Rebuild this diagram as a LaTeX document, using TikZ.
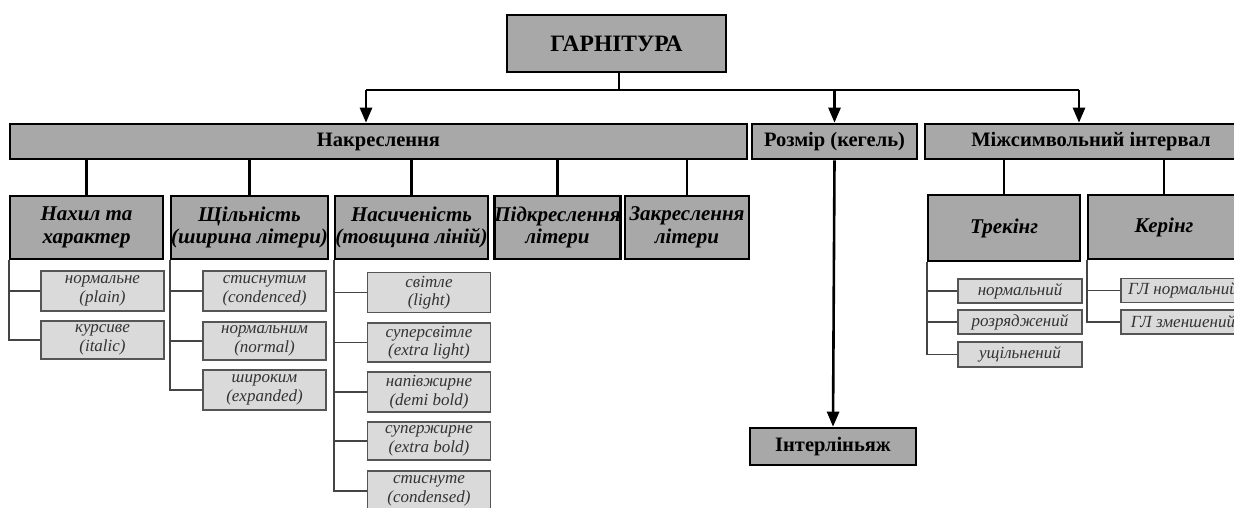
\documentclass[tikz,border=0pt]{standalone}
\usepackage{fontspec}
\setmainfont{Liberation Serif}
\usetikzlibrary{arrows.meta}
\definecolor{boxgray}{HTML}{A8A8A8}
\definecolor{leafgray}{HTML}{DADADA}
\definecolor{leafline}{HTML}{555555}
\definecolor{leaftext}{HTML}{333333}
\definecolor{treeline}{HTML}{444444}
\tikzset{
  mainbox/.style={draw=black, line width=2.6pt, fill=boxgray, inner sep=0pt, align=center,
    font=\bfseries\fontsize{20.5}{22}\selectfont},
  topbox/.style={mainbox, font=\bfseries\fontsize{23.5}{25}\selectfont},
  subbox/.style={draw=black, line width=2.6pt, fill=boxgray, inner sep=0pt, align=center,
    font=\bfseries\itshape\fontsize{21}{22.5}\selectfont},
  leafbox/.style={draw=leafline, line width=1.8pt, fill=leafgray, inner sep=0pt, align=center,
    text=leaftext, font=\itshape\fontsize{17}{18.5}\selectfont},
  conn/.style={draw=black, line width=2.6pt},
  arr/.style={conn, -{Triangle[length=15pt, width=12pt]}},
  tree/.style={draw=treeline, line width=1.8pt},
}
\begin{document}
\begin{tikzpicture}[x=1pt, y=-1pt]
\useasboundingbox (0,0) rectangle (1234,508);
\clip (0,0) rectangle (1234,508);

% level 0
\node[topbox, minimum width=219pt, minimum height=57pt] (top) at (616.5,43.5) {ГАРНІТУРА};

% level 1
\node[mainbox, minimum width=737pt, minimum height=35pt] (nak) at (378.5,141.5) {Накреслення};
\node[mainbox, minimum width=165pt, minimum height=35pt] (roz) at (834.5,141.5) {Розмір (кегель)};
\node[mainbox, minimum width=332pt, minimum height=35pt] (mizh) at (1091,141.5) {Міжсимвольний інтервал};
\node[mainbox, minimum width=166pt, minimum height=37pt] (inter) at (833,446.5) {Інтерліньяж};

% level 2
\node[subbox, minimum width=153pt, minimum height=63pt] (nakh) at (86.5,227.5) {Нахил та\\характер};
\node[subbox, minimum width=153pt, minimum height=63pt] (shch) at (249.5,227.5) {Щільність\\(ширина літери)};
\node[subbox, minimum width=153pt, minimum height=63pt] (nas) at (411.5,227.5) {Насиченість\\(товщина ліній)};
\node[subbox, minimum width=125pt, minimum height=63pt] (pidk) at (557.5,227.5) {Підкреслення\\літери};
\node[subbox, minimum width=124pt, minimum height=63pt] (zakr) at (687,227.5) {Закреслення\\літери};
\node[subbox, minimum width=152pt, minimum height=66pt] (trek) at (1004,228) {Трекінг};
\node[subbox, minimum width=152pt, minimum height=64pt] (ker) at (1164,227) {Керінг};

% leaves: Нахил
\node[leafbox, minimum width=123pt, minimum height=40pt] (n1) at (102.5,291) {нормальне\\(plain)};
\node[leafbox, minimum width=123pt, minimum height=38pt] (n2) at (102.5,340) {курсиве\\(italic)};
% leaves: Щільність
\node[leafbox, minimum width=123pt, minimum height=40pt] (s1) at (264.5,291) {стиснутим\\(condenced)};
\node[leafbox, minimum width=123pt, minimum height=38pt] (s2) at (264.5,341) {нормальним\\(normal)};
\node[leafbox, minimum width=123pt, minimum height=40pt] (s3) at (264.5,390) {широким\\(expanded)};
% leaves: Насиченість
\node[leafbox, minimum width=123pt, minimum height=40pt] (h1) at (429,292.5) {світле\\(light)};
\node[leafbox, minimum width=123pt, minimum height=39pt] (h2) at (429,342.5) {суперсвітле\\(extra light)};
\node[leafbox, minimum width=123pt, minimum height=40pt] (h3) at (429,392) {напівжирне\\(demi bold)};
\node[leafbox, minimum width=123pt, minimum height=38pt] (h4) at (429,441) {супержирне\\(extra bold)};
\node[leafbox, minimum width=123pt, minimum height=40pt] (h5) at (429,491) {стиснуте\\(condensed)};
% leaves: Трекінг
\node[leafbox, minimum width=124pt, minimum height=24pt] (t1) at (1020,291) {нормальний};
\node[leafbox, minimum width=124pt, minimum height=24pt] (t2) at (1020,322) {розряджений};
\node[leafbox, minimum width=124pt, minimum height=25pt] (t3) at (1020,354.5) {ущільнений};
% leaves: Керінг
\node[leafbox, minimum width=124pt, minimum height=24pt] (k1) at (1183,290.5) {ГЛ нормальний};
\node[leafbox, minimum width=124pt, minimum height=24pt] (k2) at (1183,322) {ГЛ зменшений};

% arrows from the top
\coordinate (hub) at (619,90);
\coordinate (aL) at (366,90);
\coordinate (aR) at (1079,90);
\draw[conn] (top.south -| hub) -- (hub);
\draw[conn] (aL) -- (aR);
\draw[arr] (aL) -- (aL |- nak.north);
\draw[arr] (roz.north |- hub) -- (roz.north);
\draw[arr] (aR) -- (aR |- mizh.north);
\draw[arr] (roz.south) -- (inter.north);

% level 1 -> level 2
\foreach \n in {nakh,shch,nas,pidk,zakr}{
  \draw[conn] (\n.north) -- (\n.north |- nak.south);
}
\draw[conn] (trek.north) -- (trek.north |- mizh.south);
\draw[conn] (ker.north) -- (ker.north |- mizh.south);

% trees
\foreach \l in {n1,n2}{\draw[tree] (nakh.south west) |- (\l.west);}
\foreach \l in {s1,s2,s3}{\draw[tree] (shch.south west) |- (\l.west);}
\foreach \l in {h1,h2,h3,h4,h5}{\draw[tree] (nas.south west) |- (\l.west);}
\foreach \l in {t1,t2,t3}{\draw[tree] (trek.south west) |- (\l.west);}
\foreach \l in {k1,k2}{\draw[tree] (ker.south west) |- (\l.west);}
\end{tikzpicture}
\end{document}
